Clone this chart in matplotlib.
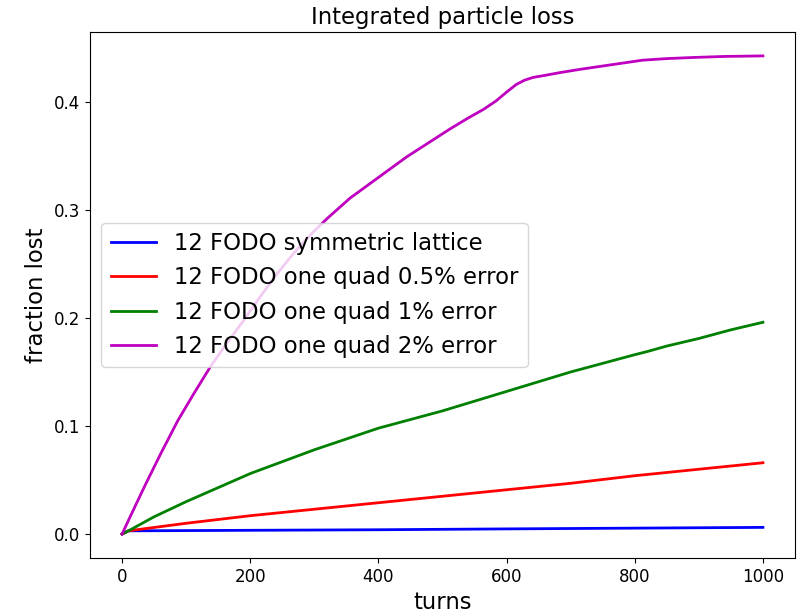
import numpy as np
import matplotlib.pyplot as plt

# integrated loss fraction vs. turn number for each lattice
turns_sym = [0, 10, 200, 400, 600, 800, 1000]
loss_sym = [0.0, 0.003, 0.0035, 0.004, 0.0048, 0.0055, 0.0062]

turns_05 = [0, 10, 100, 200, 300, 400, 500, 600, 700, 800, 900, 1000]
loss_05 = [0.0, 0.003, 0.010, 0.017, 0.023, 0.029, 0.035, 0.041, 0.047, 0.054, 0.060, 0.066]

turns_1 = [0, 10, 50, 100, 150, 200, 250, 300, 350, 400, 450, 500, 550, 600,
           650, 700, 750, 800, 820, 850, 900, 950, 1000]
loss_1 = [0.0, 0.003, 0.016, 0.030, 0.043, 0.056, 0.067, 0.078, 0.088, 0.098, 0.106,
          0.114, 0.123, 0.132, 0.141, 0.150, 0.158, 0.166, 0.169, 0.174, 0.181, 0.189, 0.196]

turns_2 = [0, 15, 35, 60, 87, 112, 138, 164, 190, 216, 242, 268, 294, 320, 356, 400,
           444, 478, 512, 540, 564, 584, 600, 615, 628, 641, 660, 683, 714, 760, 812,
           850, 890, 940, 1000]
loss_2 = [0.0, 0.019, 0.044, 0.074, 0.105, 0.130, 0.155, 0.177, 0.198, 0.220, 0.241,
          0.260, 0.277, 0.292, 0.311, 0.330, 0.349, 0.362, 0.375, 0.385, 0.393, 0.401,
          0.409, 0.416, 0.420, 0.4225, 0.4245, 0.427, 0.430, 0.434, 0.4385, 0.440,
          0.441, 0.442, 0.4425]

fig = plt.figure(figsize=(7.98, 6.15), dpi=100)
ax = fig.add_axes([0.1128, 0.0927, 0.8834, 0.8553])

ax.plot(turns_sym, loss_sym, color='b', lw=2, label='12 FODO symmetric lattice')
ax.plot(turns_05, loss_05, color='r', lw=2, label='12 FODO one quad 0.5% error')
ax.plot(turns_1, loss_1, color='g', lw=2, label='12 FODO one quad 1% error')
ax.plot(turns_2, loss_2, color='m', lw=2, label='12 FODO one quad 2% error')

ax.set_title('Integrated particle loss', fontsize=16.4)
ax.set_xlabel('turns', fontsize=16.4)
ax.set_ylabel('fraction lost', fontsize=16.4)
ax.set_xticks([0, 200, 400, 600, 800, 1000])
ax.set_yticks([0.0, 0.1, 0.2, 0.3, 0.4])
ax.tick_params(labelsize=12)
ax.legend(loc='center left', fontsize=16.4)

fig.savefig('out.png', dpi=100)
